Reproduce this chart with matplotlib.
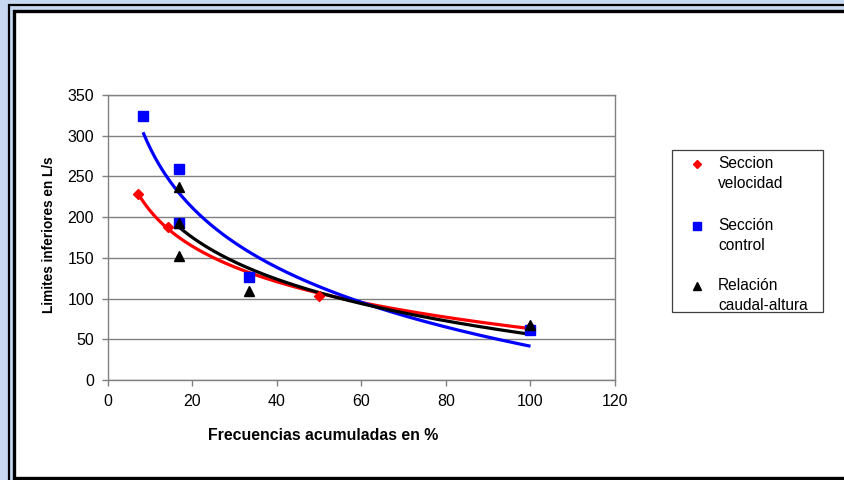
import numpy as np
import matplotlib.pyplot as plt
from matplotlib.patches import Rectangle
from matplotlib.lines import Line2D

plt.rcParams['font.family'] = ['Liberation Sans', 'DejaVu Sans']

# data (x = frecuencia acumulada %, y = L/s)
vel_x = [7.1, 14.3, 50.0, 100.0]
vel_y = [228, 188, 103, 65]
ctrl_x = [8.3, 16.7, 16.7, 33.3, 100.0]
ctrl_y = [324, 259, 193, 127, 61]
rel_x = [16.7, 16.7, 16.7, 33.3, 100.0]
rel_y = [237, 193, 152, 109, 67]

W, H = 845, 480
fig = plt.figure(figsize=(W / 100, H / 100), dpi=100)
fig.patch.set_facecolor('#c6d9f0')


def px_rect(x0, y0, x1, y1, **kw):
    # rectangle given in pixel coordinates (y from top)
    r = Rectangle((x0 / W, 1 - y1 / H), (x1 - x0) / W, (y1 - y0) / H,
                  transform=fig.transFigure, **kw)
    fig.add_artist(r)


# double frame, kept behind the axes
px_rect(9, 5, 900, 520, facecolor='#c6d9f0', edgecolor='black', lw=1.6,
        zorder=-10)
px_rect(14, 10.5, 900, 477.5, facecolor='white', edgecolor='black', lw=2.4,
        zorder=-9)

ax = fig.add_axes([108 / W, 1 - 380 / H, 507 / W, 285 / H])
ax.set_facecolor('white')


def log_trend(x, y):
    b, a = np.polyfit(np.log(x), y, 1)
    xs = np.linspace(min(x), max(x), 200)
    return xs, a + b * np.log(xs)


series = [
    (vel_x, vel_y, 'red', 'D', 5.0, 'Seccion\nvelocidad'),
    (ctrl_x, ctrl_y, 'blue', 's', 6.5, 'Sección\ncontrol'),
    (rel_x, rel_y, 'black', '^', 6.5, 'Relación\ncaudal-altura'),
]

for x, y, c, m, ms, lab in series:
    xs, ys = log_trend(x, y)
    ax.plot(xs, ys, color=c, lw=2.3, zorder=3, solid_capstyle='butt')
for x, y, c, m, ms, lab in series:
    ax.plot(x, y, ls='none', marker=m, ms=ms, color=c, mec=c, zorder=4)

ax.set_xlim(0, 120)
ax.set_ylim(0, 350)
ax.set_xticks(np.arange(0, 121, 20))
ax.set_yticks(np.arange(0, 351, 50))
ax.yaxis.grid(True, color='#808080', lw=1)
ax.set_axisbelow(True)
for s in ax.spines.values():
    s.set_color('#808080')
    s.set_linewidth(1)
ax.tick_params(direction='out', length=4, width=1, color='#808080',
               labelsize=11.5, pad=6)

fig.text(323 / W, 1 - 435 / H, 'Frecuencias acumuladas en %', ha='center',
         va='center', fontsize=11.4, fontweight='bold')
fig.text(49 / W, 1 - 235 / H, 'Limites inferiores en L/s', ha='center',
         va='center', rotation=90, fontsize=9.8, fontweight='bold')

# legend box
px_rect(672, 150.5, 823, 312, facecolor='white', edgecolor='#404040', lw=0.9)
rows = [164, 226, 286]
for (x, y, c, m, ms, lab), ry in zip(series, rows):
    fig.add_artist(Line2D([697 / W], [1 - ry / H], marker=m, ms=ms * 0.9,
                          color=c, ls='none', transform=fig.transFigure))
    fig.text(718 / W, 1 - (ry - 8) / H, lab, ha='left', va='top',
             fontsize=11.2, linespacing=1.45)

fig.savefig('out.png', dpi=100, facecolor=fig.get_facecolor())
